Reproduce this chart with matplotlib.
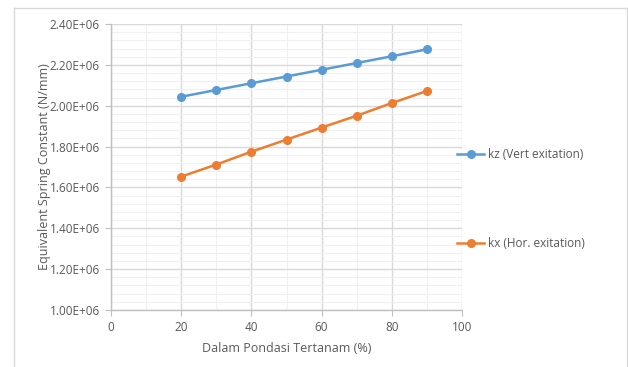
import matplotlib
matplotlib.use("Agg")
import matplotlib.pyplot as plt
from matplotlib.ticker import MultipleLocator, FuncFormatter
from matplotlib.lines import Line2D

depth = [20, 30, 40, 50, 60, 70, 80, 90]
kz = [2.044e6, 2.077e6, 2.110e6, 2.143e6, 2.176e6, 2.209e6, 2.242e6, 2.276e6]
kx = [1.653e6, 1.712e6, 1.775e6, 1.834e6, 1.893e6, 1.951e6, 2.013e6, 2.072e6]
label_kz = "kz (Vert exitation)"
label_kx = "kx (Hor. exitation)"

plt.rcParams['font.family'] = ['Open Sans', 'DejaVu Sans']
txt = '#595959'

fig = plt.figure(figsize=(6.28, 3.67), dpi=100)
ax = fig.add_axes([111/628, 1-310/367, (462-111)/628, (310-24)/367])

blue = '#5B9BD5'
orange = '#ED7D31'
ax.plot(depth, kz, color=blue, lw=1.8, marker='o', ms=5.5, label=label_kz, zorder=3)
ax.plot(depth, kx, color=orange, lw=1.8, marker='o', ms=5.5, label=label_kx, zorder=3)

ax.set_xlim(0, 100)
ax.set_ylim(1.0e6, 2.4e6)
ax.xaxis.set_major_locator(MultipleLocator(20))
ax.xaxis.set_minor_locator(MultipleLocator(10))
ax.yaxis.set_major_locator(MultipleLocator(0.2e6))
ax.yaxis.set_minor_locator(MultipleLocator(0.04e6))
ax.yaxis.set_major_formatter(FuncFormatter(lambda v, p: f"{v/1e6:.2f}E+06"))

ax.grid(which='major', color='#d9d9d9', lw=1.0)
ax.grid(which='minor', color='#f0f0f0', lw=0.8)
ax.set_axisbelow(True)

for s in ['top', 'right']:
    ax.spines[s].set_visible(False)
for s in ['left', 'bottom']:
    ax.spines[s].set_color('#bfbfbf')
    ax.spines[s].set_linewidth(1.0)

ax.tick_params(which='major', direction='out', length=4, color='#bfbfbf',
               labelcolor=txt, labelsize=8.5, pad=4)
ax.tick_params(which='minor', length=0)

ax.set_xlabel("Dalam Pondasi Tertanam (%)", color=txt, fontsize=9, labelpad=6)
ax.set_ylabel("Equivalent Spring Constant (N/mm)", color=txt, fontsize=9)
ax.yaxis.set_label_coords(-0.172, 0.5)

fig.legend(loc='center left', bbox_to_anchor=(457/628, 1-199/367),
           frameon=False, borderpad=0, borderaxespad=0, handlelength=2.3,
           handletextpad=0.35, labelspacing=6.5, fontsize=8.5, labelcolor=txt)

# outer chart border
fig.add_artist(Line2D([14/628, 14/628], [0, 1-8/367], transform=fig.transFigure, color='#d9d9d9', lw=1))
fig.add_artist(Line2D([14/628, 627/628], [1-8/367, 1-8/367], transform=fig.transFigure, color='#d9d9d9', lw=1))
fig.add_artist(Line2D([627/628, 627/628], [0, 1-8/367], transform=fig.transFigure, color='#d9d9d9', lw=1))

fig.savefig("out.png", dpi=100)
